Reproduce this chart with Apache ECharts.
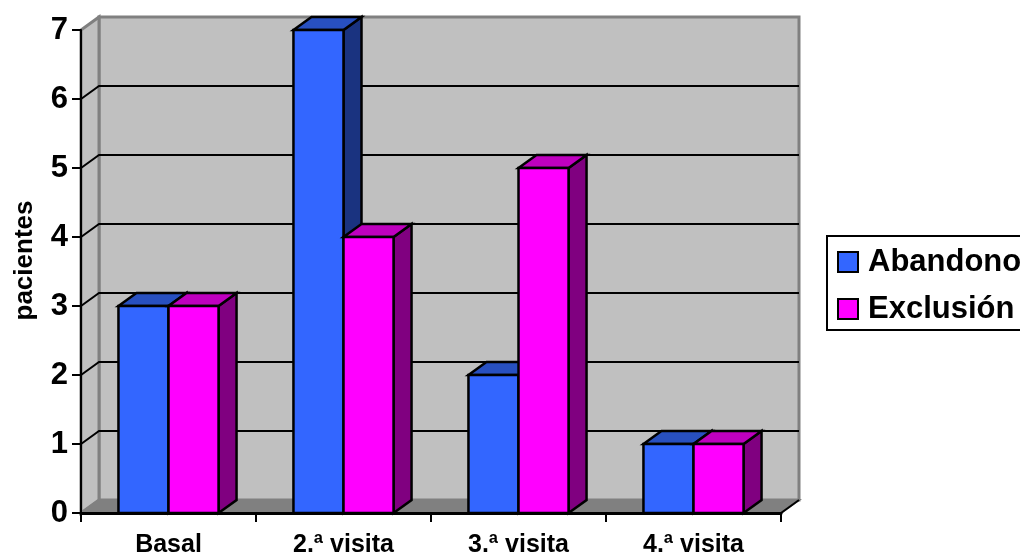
<!DOCTYPE html>
<html>
<head>
<meta charset="utf-8">
<style>html,body{margin:0;padding:0;background:#fff;overflow:hidden}#c{width:1020px;height:554px}</style>
<script src="https://cdn.jsdelivr.net/npm/echarts@6/dist/echarts.min.js"></script>
</head>
<body>
<div id="c"></div>
<script>
// Patients per visit, by withdrawal reason
const categories = ['Basal', '2.ª visita', '3.ª visita', '4.ª visita'];
const abandono = [3, 7, 2, 1];
const exclusion = [3, 4, 5, 1];
const yTicks = [0, 1, 2, 3, 4, 5, 6, 7];

// Oblique projection used for the box and the bars
const DX = 18, DY = 13;
const FONT = '"Liberation Sans", Arial, sans-serif';
const BAR_FRACTION = 0.286;

const wallFill = '#c0c0c0', wallEdge = '#808080', floorFill = '#808080';

function poly(points, fill, stroke, lineWidth) {
  return { type: 'polygon', shape: { points }, style: { fill, stroke, lineWidth, lineJoin: 'miter' } };
}

// Side wall, back wall and floor of the box
function renderWalls(params, api) {
  const x0 = params.coordSys.x, w = params.coordSys.width;
  const yBottom = api.coord([0, 0])[1], yTop = api.coord([0, 7])[1];
  const x1 = x0 + w;
  return {
    type: 'group',
    children: [
      poly([[x0 + DX, yBottom - DY], [x1 + DX, yBottom - DY], [x1 + DX, yTop - DY], [x0 + DX, yTop - DY]], wallFill, wallEdge, 3),
      poly([[x0, yBottom], [x0 + DX, yBottom - DY], [x0 + DX, yTop - DY], [x0, yTop]], wallFill, wallEdge, 3),
      poly([[x0, yBottom], [x1, yBottom], [x1 + DX, yBottom - DY], [x0 + DX, yBottom - DY]], floorFill, wallEdge, 2),
      { type: 'line', shape: { x1: x1, y1: yBottom, x2: x1 + DX, y2: yBottom - DY }, style: { stroke: '#000', lineWidth: 2 } }
    ]
  };
}

// One gridline bent around the side wall and along the back wall
function renderGridline(params, api) {
  const y = api.coord([0, api.value(0)])[1];
  const x0 = params.coordSys.x, x1 = x0 + params.coordSys.width;
  return {
    type: 'polyline',
    shape: { points: [[x0, y], [x0 + DX, y - DY], [x1 + DX, y - DY]] },
    style: { fill: 'none', stroke: '#000', lineWidth: 2 }
  };
}

// Oblique box bar; side = -1 sits left of the category centre, side = 0 right of it
function makeBarRenderer(side, front, top, flank) {
  return function (params, api) {
    const base = api.coord([api.value(0), 0]);
    const head = api.coord([api.value(0), api.value(1)]);
    const bw = api.size([1, 0])[0] * BAR_FRACTION;
    const l = base[0] + side * bw, r = l + bw;
    const t = head[1], b = base[1];
    const edge = '#000';
    return {
      type: 'group',
      children: [
        poly([[r, b], [r + DX, b - DY], [r + DX, t - DY], [r, t]], flank, edge, 2.5),
        poly([[l, t], [l + DX, t - DY], [r + DX, t - DY], [r, t]], top, edge, 2.5),
        poly([[l, t], [r, t], [r, b], [l, b]], front, edge, 2.5)
      ]
    };
  };
}

const chart = echarts.init(document.getElementById('c'), null, { renderer: 'canvas' });
chart.setOption({
  animation: false,
  backgroundColor: '#fff',
  textStyle: { fontFamily: FONT },
  grid: { left: 81, right: 239, top: 30, bottom: 41, containLabel: false, outerBoundsMode: 'none' },
  legend: {
    orient: 'vertical',
    left: 827,
    top: 236,
    padding: [7, 40, 2, 10],
    data: ['Abandono', 'Exclusión'],
    icon: 'rect',
    itemWidth: 20,
    itemHeight: 20,
    itemGap: 9,
    backgroundColor: '#fff',
    borderColor: '#000',
    borderWidth: 2,
    itemStyle: { borderColor: '#000', borderWidth: 2 },
    textStyle: { fontFamily: FONT, fontWeight: 'bold', fontSize: 31, lineHeight: 35, color: '#000', padding: [3, 0, 0, 5] }
  },
  xAxis: {
    type: 'category',
    data: categories,
    z: 3,
    axisLine: { lineStyle: { color: '#000', width: 3 } },
    axisTick: { show: true, length: 9, lineStyle: { color: '#000', width: 2 } },
    axisLabel: { margin: 20, fontFamily: FONT, fontWeight: 'bold', fontSize: 25, color: '#000' }
  },
  yAxis: {
    type: 'value',
    min: 0,
    max: 7,
    interval: 1,
    z: 3,
    name: 'pacientes',
    nameLocation: 'middle',
    nameGap: 43,
    nameTextStyle: { fontFamily: FONT, fontWeight: 'bold', fontSize: 26, color: '#000', padding: [0, 0, 0, 22] },
    axisLine: { show: true, lineStyle: { color: '#000', width: 2 } },
    axisTick: { show: true, length: 9, lineStyle: { color: '#000', width: 2 } },
    axisLabel: { margin: 13, fontFamily: FONT, fontWeight: 'bold', fontSize: 31, color: '#000', padding: [5, 0, 0, 0] },
    splitLine: { show: false }
  },
  series: [
    { type: 'custom', name: 'walls', z: 1, silent: true, clip: false, renderItem: renderWalls, data: [[0]] },
    { type: 'custom', name: 'grid', z: 2, silent: true, clip: false, renderItem: renderGridline,
      data: yTicks.slice(1, -1).map(v => [v]), encode: { y: 0 } },
    { type: 'custom', name: 'Abandono', z: 4, clip: false, itemStyle: { color: '#3366ff' },
      renderItem: makeBarRenderer(-1, '#3366ff', '#2850c0', '#1a3380'),
      data: abandono.map((v, i) => [i, v]), encode: { x: 0, y: 1 } },
    { type: 'custom', name: 'Exclusión', z: 5, clip: false, itemStyle: { color: '#ff00ff' },
      renderItem: makeBarRenderer(0, '#ff00ff', '#bf00bf', '#800080'),
      data: exclusion.map((v, i) => [i, v]), encode: { x: 0, y: 1 } }
  ]
});
</script>
</body>
</html>
